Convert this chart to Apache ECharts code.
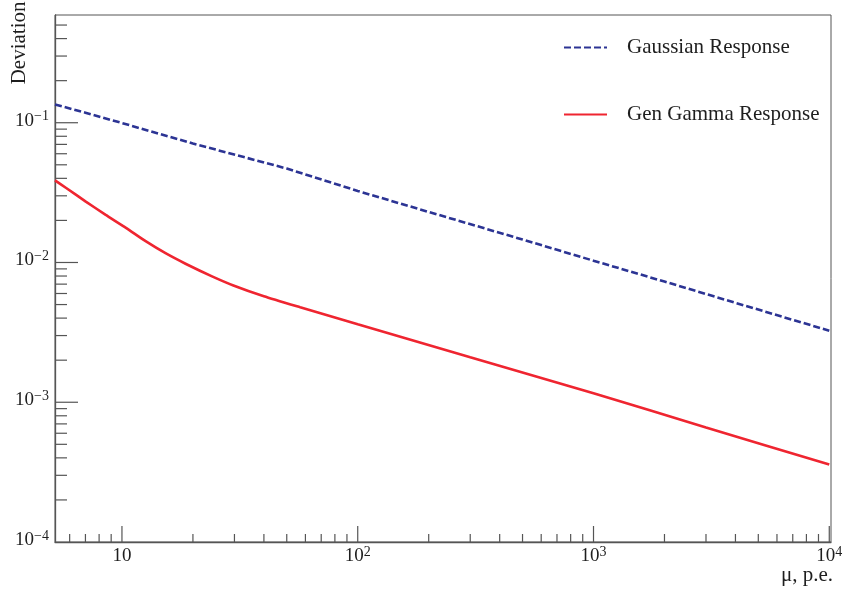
<!DOCTYPE html>
<html>
<head>
<meta charset="utf-8">
<script src="https://cdn.jsdelivr.net/npm/echarts@6/dist/echarts.min.js"></script>
<style>
  html, body { margin: 0; padding: 0; background: #fff; }
  #chart { width: 847px; height: 595px; }
</style>
</head>
<body>
<div id="chart"></div>
<script>
// Mean number of photoelectrons (x) and relative deviation (y) for each response model
const muGauss  = [5.2, 7, 10, 20, 50, 100, 200, 500, 1000, 2000, 5000, 10000];
const devGauss = [0.135, 0.118, 0.0995, 0.071, 0.047, 0.0325, 0.023, 0.0146, 0.0103, 0.0073, 0.0046, 0.00325];

const muGamma  = [5.2, 5.8, 7, 8.5, 10.4, 12.6, 15.3, 18.6, 24.1, 29.7, 40, 57, 100, 300, 1000, 3000, 10000];
const devGamma = [0.0387, 0.0341, 0.0274, 0.0220, 0.0177, 0.0142, 0.01165, 0.0098, 0.00796, 0.00685, 0.00573, 0.00478,
                  0.00361, 0.0021, 0.00116, 0.00066, 0.000358];

const seriesNames = ['Gaussian Response', 'Gen Gamma Response'];

// Axis ranges and tick positions
const X_MIN = 5.2, X_MAX = 10170;
const Y_MIN = 1e-4, Y_MAX = 0.59;
const xMajorTicks = [10, 100, 1000, 10000];
const yMajorTicks = [1e-3, 1e-2, 1e-1];
const xDecades = [1, 10, 100, 1000];
const yDecades = [1e-4, 1e-3, 1e-2, 1e-1];
const mantissas = [2, 3, 4, 5, 6, 7, 8, 9];

const xTitle = 'μ, p.e.';
const yTitle = 'Deviation';

const FONT = '"Liberation Serif", "Times New Roman", serif';
const AXIS_COLOR = '#555555';
const TEXT_COLOR = '#1e1e1e';
const GAUSS_COLOR = '#2c3494';
const GAMMA_COLOR = '#ef2530';

function minorTicks(decades, lo, hi) {
  const out = [];
  decades.forEach(d => mantissas.forEach(m => {
    const v = m * d;
    if (v > lo && v < hi) out.push(v);
  }));
  return out;
}

const xTickData = xMajorTicks.map(v => [v, Y_MIN, 1])
  .concat(minorTicks(xDecades, X_MIN, X_MAX).map(v => [v, Y_MIN, 0]));
const yTickData = yMajorTicks.map(v => [X_MIN, v, 1])
  .concat(minorTicks(yDecades, Y_MIN, Y_MAX).map(v => [X_MIN, v, 0]));

// "10", "10^2", "10^-3" ... as rich text with a raised exponent
function powerLabel(value, plainTen) {
  const lg = Math.log10(value);
  const e = Math.round(lg);
  if (Math.abs(lg - e) > 1e-6) return '';
  if (plainTen && e === 1) return '{b|10}';
  const expText = e < 0 ? '\u2212' + (-e) : String(e);
  return '{b|10}{s|' + expText + '}';
}

const labelRich = {
  b: { fontFamily: FONT, fontSize: 19, lineHeight: 22, color: TEXT_COLOR },
  s: { fontFamily: FONT, fontSize: 14, lineHeight: 14, verticalAlign: 'top', color: TEXT_COLOR }
};

function tickRenderer(dir) {
  return function (params, api) {
    const major = api.value(2) === 1;
    const p = api.coord([api.value(0), api.value(1)]);
    const len = dir === 'x' ? (major ? 16 : 8) : (major ? 23 : 12);
    const shape = dir === 'x'
      ? { x1: p[0], y1: p[1], x2: p[0], y2: p[1] - len }
      : { x1: p[0], y1: p[1], x2: p[0] + len, y2: p[1] };
    return { type: 'line', shape: shape, style: { stroke: AXIS_COLOR, lineWidth: 1.2 } };
  };
}

const chart = echarts.init(document.getElementById('chart'), null, { renderer: 'canvas' });

chart.setOption({
  animation: false,
  backgroundColor: '#ffffff',
  grid: {
    left: 55, right: 16, top: 15, bottom: 53,
    show: true, borderColor: AXIS_COLOR, borderWidth: 1, backgroundColor: '#ffffff'
  },
  legend: {
    orient: 'vertical',
    left: 563, top: 37, padding: 0,
    itemWidth: 43, itemHeight: 20, itemGap: 46,
    selectedMode: false,
    data: seriesNames,
    // line-only keys: hide the marker dot that line series add to their legend icon
    itemStyle: { color: 'rgba(0,0,0,0)', borderWidth: 0, opacity: 0 },
    textStyle: { fontFamily: FONT, fontSize: 21, lineHeight: 20, color: TEXT_COLOR, padding: [0, 0, 0, 15] }
  },
  xAxis: {
    type: 'log', logBase: 10, min: X_MIN, max: X_MAX,
    axisLine: { show: true, onZero: false, lineStyle: { color: AXIS_COLOR, width: 1.3 } },
    axisTick: { show: false },
    minorTick: { show: false },
    splitLine: { show: false },
    axisLabel: {
      margin: 3,
      formatter: v => powerLabel(v, true),
      rich: labelRich
    }
  },
  yAxis: {
    type: 'log', logBase: 10, min: Y_MIN, max: Y_MAX,
    axisLine: { show: true, onZero: false, lineStyle: { color: AXIS_COLOR, width: 1.3 } },
    axisTick: { show: false },
    minorTick: { show: false },
    splitLine: { show: false },
    axisLabel: {
      margin: 6,
      padding: [0, 0, 4, 0],
      formatter: v => powerLabel(v, false),
      rich: labelRich
    }
  },
  graphic: [
    {
      type: 'text', x: 19.5, y: 1.5, rotation: Math.PI / 2,
      style: { text: yTitle, fontFamily: FONT, fontSize: 21, fill: TEXT_COLOR, align: 'right', verticalAlign: 'middle' }
    },
    {
      type: 'text', x: 833, y: 575.5,
      style: { text: xTitle, fontFamily: FONT, fontSize: 21, fill: TEXT_COLOR, align: 'right', verticalAlign: 'middle' }
    }
  ],
  series: [
    {
      name: seriesNames[0],
      type: 'line',
      data: muGauss.map((m, i) => [m, devGauss[i]]),
      symbol: 'none', showSymbol: false,
      lineStyle: { color: GAUSS_COLOR, width: 2.6, type: [7, 3] },
      itemStyle: { color: GAUSS_COLOR },
      z: 3
    },
    {
      name: seriesNames[1],
      type: 'line',
      data: muGamma.map((m, i) => [m, devGamma[i]]),
      symbol: 'none', showSymbol: false,
      smooth: 0.2,
      lineStyle: { color: GAMMA_COLOR, width: 2.6 },
      itemStyle: { color: GAMMA_COLOR },
      z: 3
    },
    {
      name: 'x ticks',
      type: 'custom',
      silent: true,
      renderItem: tickRenderer('x'),
      encode: { x: 0, y: 1 },
      data: xTickData,
      z: 4
    },
    {
      name: 'y ticks',
      type: 'custom',
      silent: true,
      renderItem: tickRenderer('y'),
      encode: { x: 0, y: 1 },
      data: yTickData,
      z: 4
    }
  ]
});
</script>
</body>
</html>
